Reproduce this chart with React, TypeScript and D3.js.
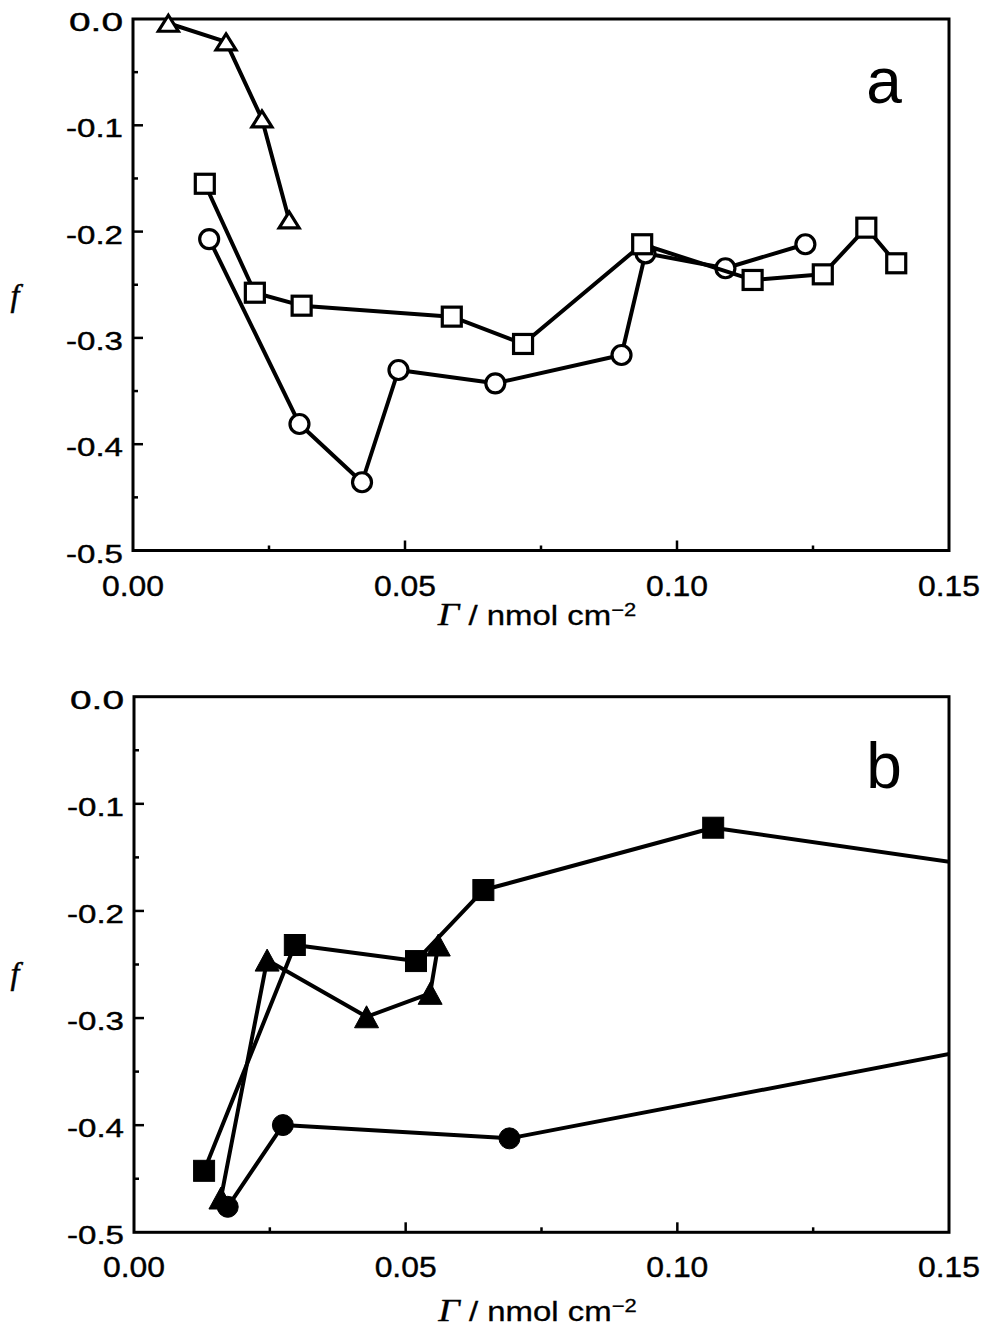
import React from "react";
import * as d3 from "d3";

// ---- Data ----
const xTickVals = [0, 0.05, 0.1, 0.15];
const xTickLabels = ["0.00", "0.05", "0.10", "0.15"];
const xMinorVals = [0.025, 0.075, 0.125];
const yTickVals = [0, -0.1, -0.2, -0.3, -0.4, -0.5];
const yTickLabels = ["0.0", "-0.1", "-0.2", "-0.3", "-0.4", "-0.5"];
const yMinorVals = [-0.05, -0.15, -0.25, -0.35, -0.45];

// Panel a (open symbols)
const aTriX = [0.0065, 0.0171, 0.0237, 0.0287];
const aTriY = [-0.004, -0.0216, -0.094, -0.189];
const aSqX = [0.0132, 0.0224, 0.031, 0.0586, 0.0717, 0.0936, 0.1139, 0.1268, 0.1348, 0.1403];
const aSqY = [-0.155, -0.2575, -0.2697, -0.28, -0.3057, -0.2119, -0.2455, -0.2402, -0.1963, -0.2298];
const aCirX = [0.014, 0.0306, 0.0421, 0.0488, 0.0666, 0.0898, 0.0942, 0.1089, 0.1236];
const aCirY = [-0.207, -0.381, -0.4358, -0.3302, -0.3427, -0.3161, -0.2204, -0.2345, -0.2119];

// Panel b (filled symbols); last points lie beyond the axis and are clipped
const bSqX = [0.0129, 0.0296, 0.0519, 0.0643, 0.1066, 0.2];
const bSqY = [-0.4426, -0.2318, -0.2468, -0.1805, -0.1223, -0.1906];
const bTriX = [0.016, 0.0245, 0.0428, 0.0545, 0.056];
const bTriY = [-0.468, -0.2459, -0.2988, -0.2769, -0.2318];
const bCirX = [0.01725, 0.0274, 0.0691, 0.2];
const bCirY = [-0.4762, -0.3999, -0.4123, -0.285];

type Series = { xs: number[]; ys: number[]; shape: "tri" | "sq" | "cir"; filled: boolean };

const panelA: Series[] = [
  { xs: aTriX, ys: aTriY, shape: "tri", filled: false },
  { xs: aCirX, ys: aCirY, shape: "cir", filled: false },
  { xs: aSqX, ys: aSqY, shape: "sq", filled: false },
];
const panelB: Series[] = [
  { xs: bCirX, ys: bCirY, shape: "cir", filled: true },
  { xs: bTriX, ys: bTriY, shape: "tri", filled: true },
  { xs: bSqX, ys: bSqY, shape: "sq", filled: true },
];

const SANS = "'Liberation Sans', Arial, Helvetica, sans-serif";
const SERIF = "'Liberation Serif', 'Times New Roman', serif";

function Marker({ x, y, shape, filled }: { x: number; y: number; shape: string; filled: boolean }) {
  const fill = filled ? "#000" : "#fff";
  const sw = filled ? 1 : 3.2;
  if (shape === "sq") {
    const s = filled ? 21 : 19;
    return <rect x={x - s / 2} y={y - s / 2} width={s} height={s} fill={fill} stroke="#000" strokeWidth={sw} />;
  }
  if (shape === "cir") {
    const r = filled ? 10.5 : 9.5;
    return <circle cx={x} cy={y} r={r} fill={fill} stroke="#000" strokeWidth={sw} />;
  }
  const w = filled ? 24 : 20;
  const h = filled ? 22 : 16;
  const d = `M${x},${y - h / 2}L${x + w / 2},${y + h / 2}L${x - w / 2},${y + h / 2}Z`;
  return <path d={d} fill={fill} stroke="#000" strokeWidth={sw} strokeLinejoin="miter" />;
}

function Panel({
  id, top, bottom, left, right, series, letter, letterY, titleY, fY,
}: {
  id: string; top: number; bottom: number; left: number; right: number; series: Series[];
  letter: string; letterY: number; titleY: number; fY: number;
}) {
  const x = d3.scaleLinear().domain([0, 0.15]).range([left, right]);
  const y = d3.scaleLinear().domain([-0.5, 0]).range([bottom, top]);
  const line = d3.line<[number, number]>().x((d) => x(d[0])).y((d) => y(d[1]));
  const cx = (left + right) / 2;
  return (
    <g>
      <defs>
        <clipPath id={`clip-${id}`}>
          <rect x={left} y={top - 14} width={right - left} height={bottom - top + 28} />
        </clipPath>
      </defs>
      {/* frame */}
      <rect x={left} y={top} width={right - left} height={bottom - top} fill="none" stroke="#000" strokeWidth={3} />
      {/* ticks */}
      {xTickVals.slice(1, -1).map((v) => (
        <line key={`xt${v}`} x1={x(v)} x2={x(v)} y1={bottom} y2={bottom - 10} stroke="#000" strokeWidth={2.5} />
      ))}
      {xMinorVals.map((v) => (
        <line key={`xm${v}`} x1={x(v)} x2={x(v)} y1={bottom} y2={bottom - 5} stroke="#000" strokeWidth={2.5} />
      ))}
      {yTickVals.slice(1, -1).map((v) => (
        <line key={`yt${v}`} x1={left} x2={left + 10} y1={y(v)} y2={y(v)} stroke="#000" strokeWidth={2.5} />
      ))}
      {yMinorVals.map((v) => (
        <line key={`ym${v}`} x1={left} x2={left + 5} y1={y(v)} y2={y(v)} stroke="#000" strokeWidth={2.5} />
      ))}
      {/* tick labels */}
      {xTickVals.map((v, i) => (
        <text key={`xl${v}`} x={x(v)} y={bottom + 45} textAnchor="middle" fontFamily={SANS} fontSize={29}
          stroke="#000" strokeWidth={0.4}
          textLength={62} lengthAdjust="spacingAndGlyphs">{xTickLabels[i]}</text>
      ))}
      {yTickVals.map((v, i) => (
        <text key={`yl${v}`} x={left - 10} y={y(v) + 12} textAnchor="end" fontFamily={SANS} fontSize={25}
          stroke="#000" strokeWidth={0.4}
          textLength={yTickLabels[i].startsWith("-") ? 57 : 54} lengthAdjust="spacingAndGlyphs">{yTickLabels[i]}</text>
      ))}
      {/* axis titles */}
      <g transform={`translate(${cx - 4},${titleY}) scale(1.22,1)`}>
        <text x={0} y={0} textAnchor="middle" fontFamily={SANS} fontSize={27} stroke="#000" strokeWidth={0.3}>
          <tspan fontFamily={SERIF} fontStyle="italic" fontSize={31}>Γ</tspan>
          <tspan> / nmol cm</tspan>
          <tspan dy={-9} fontSize={18}>−2</tspan>
        </text>
      </g>
      <text x={15} y={fY} textAnchor="middle" fontFamily={SERIF} fontStyle="italic" fontSize={32}
        stroke="#000" strokeWidth={0.5}>f</text>
      <text x={884} y={letterY} textAnchor="middle" fontFamily={SANS} fontSize={64}>{letter}</text>
      {/* data */}
      <g clipPath={`url(#clip-${id})`}>
        {series.map((s, si) => {
          const pts: [number, number][] = s.xs.map((v, i) => [v, s.ys[i]]);
          return (
            <g key={si}>
              <path d={line(pts) || ""} fill="none" stroke="#000" strokeWidth={4} strokeLinejoin="round" />
              {pts.map((p, i) => (
                <Marker key={i} x={x(p[0])} y={y(p[1])} shape={s.shape} filled={s.filled} />
              ))}
            </g>
          );
        })}
      </g>
    </g>
  );
}

export default function App() {
  return (
    <svg width={988} height={1333} style={{ position: "absolute", left: 0, top: 0, background: "#fff" }}>
      <rect x={0} y={0} width={988} height={1333} fill="#fff" />
      <Panel id="a" top={19} bottom={550.5} left={133} right={949} series={panelA}
        letter="a" letterY={103} titleY={625} fY={306} />
      <Panel id="b" top={696.7} bottom={1232.3} left={134} right={949} series={panelB}
        letter="b" letterY={788} titleY={1321} fY={984} />
    </svg>
  );
}
